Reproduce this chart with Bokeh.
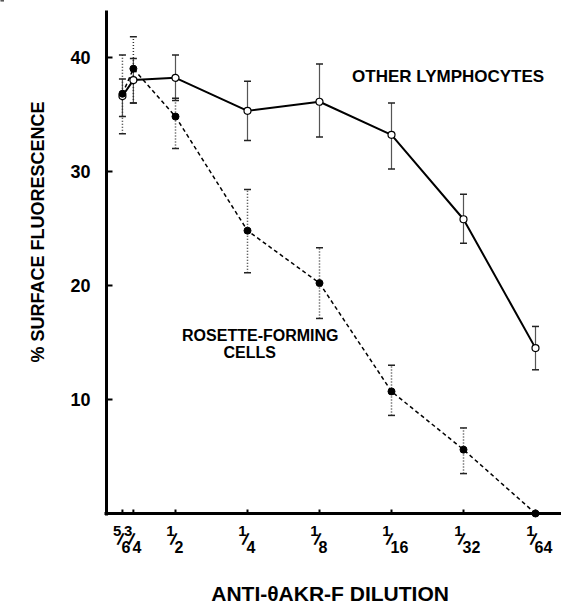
import math
from bokeh.plotting import figure
from bokeh.models import Range1d, FixedTicker, Whisker, TeeHead, ColumnDataSource, Label
from bokeh.core.properties import value
from bokeh.embed import file_html
from bokeh.resources import INLINE

nan = float("nan")

# ---- data ----
dilution_labels = ["5/6", "3/4", "1/2", "1/4", "1/8", "1/16", "1/32", "1/64"]
dilutions = [5 / 6, 3 / 4, 1 / 2, 1 / 4, 1 / 8, 1 / 16, 1 / 32, 1 / 64]

other_mean = [36.6, 38.0, 38.2, 35.3, 36.1, 33.2, 25.8, 14.5]
other_upper = [38.1, 39.9, 40.2, 37.9, 39.4, 36.0, 28.0, 16.4]
other_lower = [34.8, 36.0, 36.2, 32.7, 33.0, 30.2, 23.7, 12.6]

rosette_mean = [36.8, 39.0, 34.8, 24.8, 20.2, 10.7, 5.6, 0.0]
rosette_upper = [40.2, 41.8, 36.4, 28.4, 23.3, 13.0, 7.5, nan]
rosette_lower = [33.3, 36.0, 32.0, 21.1, 17.1, 8.6, 3.5, nan]

y_ticks = [10, 20, 30, 40]

FONT = "Liberation Sans"
PX_PER_UNIT = 503 / 44.1       # vertical scale (pixels per % unit)
PX_PER_DOUBLING = 72           # horizontal scale (pixels per two-fold dilution)

def xpx(px):   # screen x (pixels from left) -> dilution
    return 2 ** (-(px - 103) / PX_PER_DOUBLING)

def ypx(px):   # screen y (pixels from top) -> % value
    return (513 - px) / PX_PER_UNIT

p = figure(
    width=561, height=606,
    x_axis_type="log",
    x_range=Range1d(xpx(0), xpx(561)),
    y_range=Range1d(ypx(606), ypx(0)),
    output_backend="svg", toolbar_location=None,
    min_border_left=0, min_border_right=0, min_border_top=0, min_border_bottom=0,
)
p.outline_line_color = None
p.xgrid.visible = False
p.ygrid.visible = False
p.background_fill_color = "white"
p.border_fill_color = "white"

numerators = [lab.split("/")[0] for lab in dilution_labels]
denominators = [lab.split("/")[1] for lab in dilution_labels]

# x axis (drawn at y = 0); its ticks and fraction labels are drawn below as glyphs
xa = p.xaxis[0]
xa.fixed_location = 0
xa.bounds = (xpx(104), xpx(561))
xa.ticker = FixedTicker(ticks=[], minor_ticks=[])
xa.major_label_standoff = 0
xa.axis_line_width = 3
xa.axis_line_color = "black"
xa.major_tick_in = 0
xa.major_tick_out = 0
xa.minor_tick_line_color = None
xa.axis_label = "ANTI-\u03b8AKR-F  DILUTION"
xa.axis_label_text_font = FONT
xa.axis_label_text_font_style = "bold"
xa.axis_label_text_font_size = "21px"
xa.axis_label_text_color = "black"
xa.axis_label_standoff = 68

# y axis (drawn at the 1:1 edge)
ya = p.yaxis[0]
ya.fixed_location = xpx(106)
ya.bounds = (ypx(514.5), ypx(10))
ya.ticker = FixedTicker(ticks=y_ticks, minor_ticks=[])
ya.axis_line_width = 3
ya.axis_line_color = "black"
ya.major_tick_in = 6
ya.major_tick_out = 0
ya.major_tick_line_width = 2
ya.minor_tick_line_color = None
ya.major_label_standoff = 16
ya.major_label_text_font = FONT
ya.major_label_text_font_style = "bold"
ya.major_label_text_font_size = "18px"
ya.major_label_text_color = "black"

# x tick marks and stacked-fraction tick labels
frac_src = ColumnDataSource(dict(x=dilutions, num=numerators, den=denominators,
                                 sl=["/"] * len(dilutions)))
p.segment(x0="x", y0=0, x1="x", y1=ypx(509), source=frac_src,
          line_color="black", line_width=2)
p.text(x="x", y=ypx(530), text="num", source=frac_src, text_align="right",
       text_baseline="middle", x_offset=-1, text_font=value(FONT),
       text_font_style="bold", text_font_size="15px", text_color="black")
p.text(x="x", y=ypx(539), text="sl", source=frac_src, text_align="center",
       text_baseline="middle", x_offset=-2, angle=-0.3, text_font=value(FONT),
       text_font_style="bold", text_font_size="17px", text_color="black")
p.text(x="x", y=ypx(546), text="den", source=frac_src, text_align="left",
       text_baseline="middle", x_offset=-1, text_font=value(FONT),
       text_font_style="bold", text_font_size="16px", text_color="black")

# error bars
src_o = ColumnDataSource(dict(x=dilutions, y=other_mean, up=other_upper, lo=other_lower))
src_r = ColumnDataSource(dict(x=dilutions, y=rosette_mean, up=rosette_upper, lo=rosette_lower))

w_o = Whisker(base="x", upper="up", lower="lo", source=src_o,
              line_color="#555555", line_width=1.2,
              upper_head=TeeHead(size=7, line_color="#222222", line_width=1.5),
              lower_head=TeeHead(size=7, line_color="#222222", line_width=1.5))
w_r = Whisker(base="x", upper="up", lower="lo", source=src_r,
              line_color="#333333", line_width=1.5, line_dash="1 2",
              upper_head=TeeHead(size=7, line_color="#222222", line_width=1.5),
              lower_head=TeeHead(size=7, line_color="#222222", line_width=1.5))
p.add_layout(w_o)
p.add_layout(w_r)

# lines and markers
p.line("x", "y", source=src_o, line_color="black", line_width=2)
p.line("x", "y", source=src_r, line_color="black", line_width=1.5, line_dash="4 3")
p.scatter("x", "y", source=src_o, size=7, fill_color="white", line_color="black", line_width=1.2)
p.scatter("x", "y", source=src_r, size=7, fill_color="black", line_color="black")

# y-axis title
p.add_layout(Label(x=xpx(37), y=ypx(229), text="% SURFACE  FLUORESCENCE", angle=math.pi / 2,
                   text_align="center", text_baseline="middle", text_font=FONT,
                   text_font_style="bold", text_font_size="18px", text_color="black"))

# series annotations
p.add_layout(Label(x=xpx(450), y=ypx(76), text="OTHER  LYMPHOCYTES", text_align="center",
                   text_baseline="middle", text_font=FONT, text_font_style="bold",
                   text_font_size="17px", text_color="black"))
p.add_layout(Label(x=xpx(338), y=ypx(335), text="ROSETTE-FORMING", text_align="right",
                   text_baseline="middle", text_font=FONT, text_font_style="bold",
                   text_font_size="16px", text_color="black"))
p.add_layout(Label(x=xpx(223), y=ypx(352), text="CELLS", text_align="left",
                   text_baseline="middle", text_font=FONT, text_font_style="bold",
                   text_font_size="16px", text_color="black"))

open("out.html", "w").write(file_html(p, INLINE))
